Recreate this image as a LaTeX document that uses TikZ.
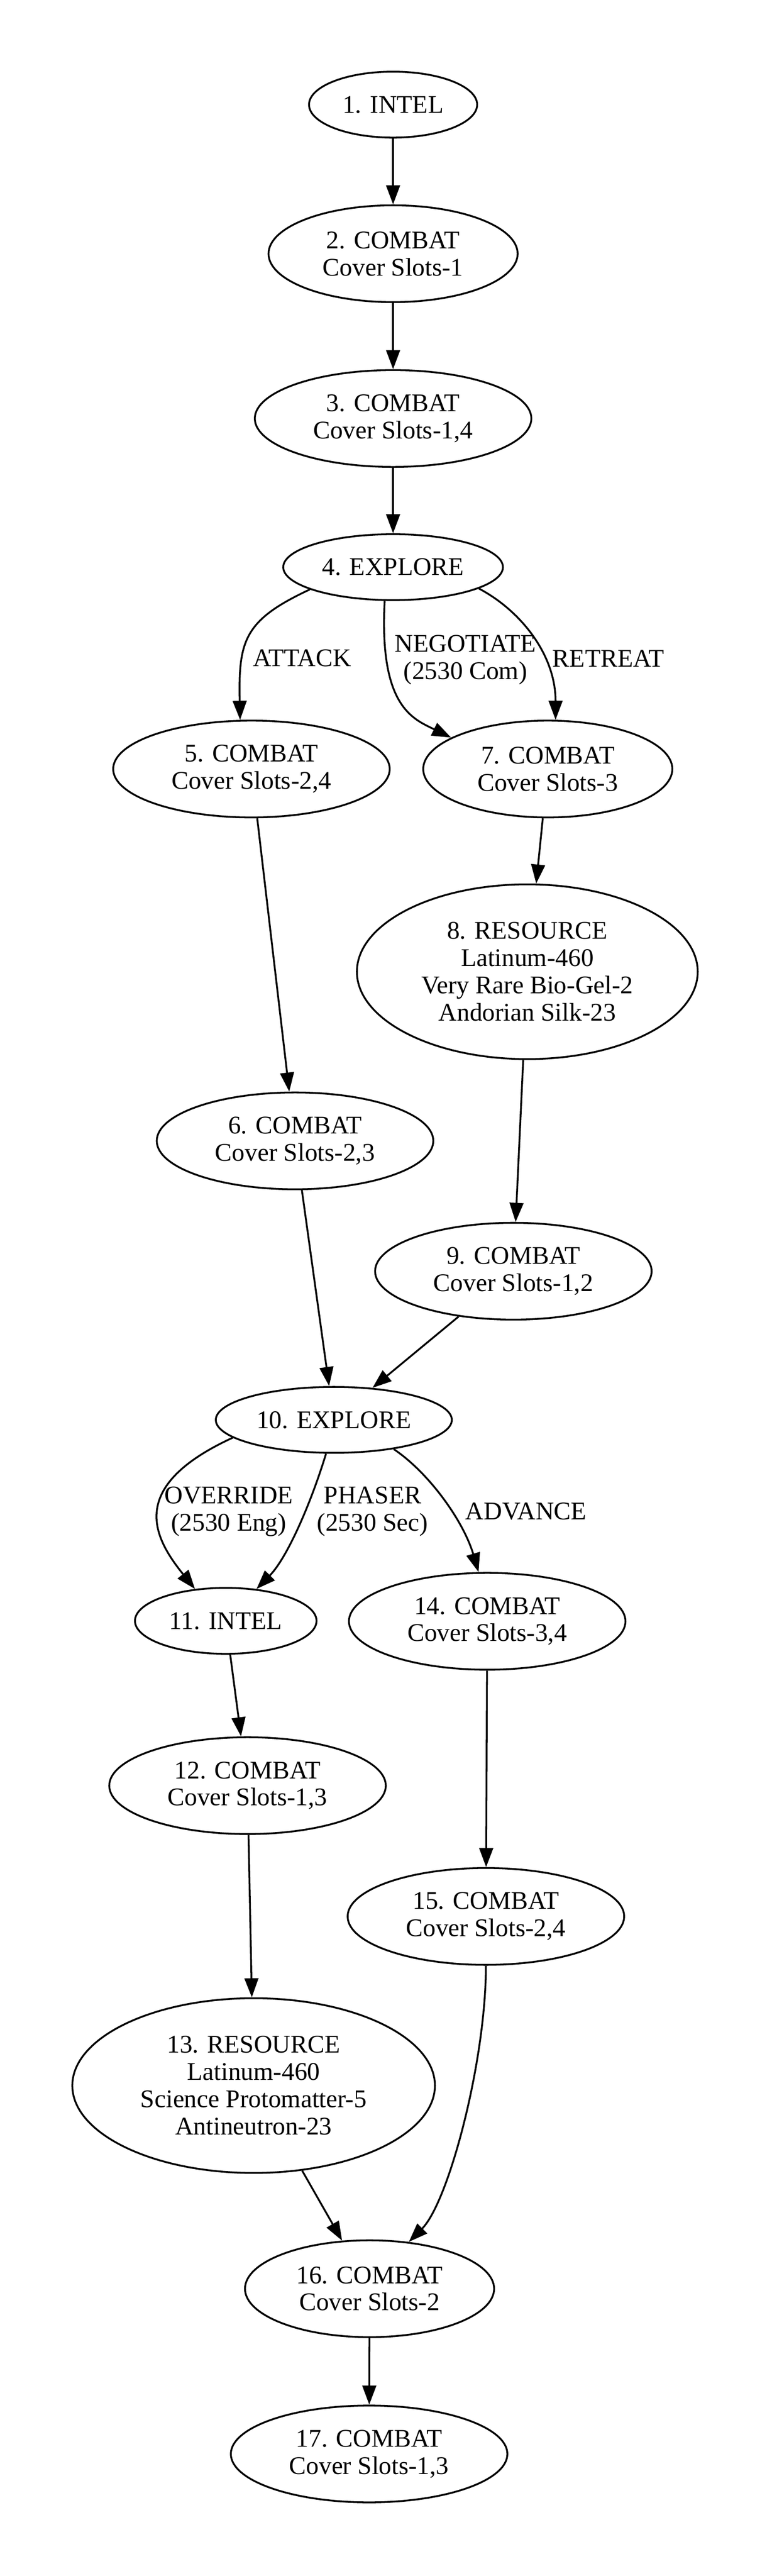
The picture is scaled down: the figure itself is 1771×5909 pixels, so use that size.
\documentclass[tikz,border=0pt]{standalone}
\usepackage{fontspec}
\setmainfont{Liberation Serif}
\usetikzlibrary{shapes.geometric,arrows.meta}

\begin{document}
\begin{tikzpicture}[x=0.24pt,y=-0.24pt,
  every node/.style={font=\fontsize{14}{15}\selectfont, align=center},
  state/.style={draw, ellipse, line width=1pt, inner sep=0pt, minimum height=53.3pt},
  single/.style={state, minimum height=36.3pt},
  big/.style={state, minimum height=96.2pt},
  edge/.style={line width=1pt, -{Triangle[length=10.5pt,width=7.6pt]}}]
\useasboundingbox (0,0) rectangle (1771,5909);

\node[single, minimum width=92.6pt] (n1) at (902,240) {1. INTEL};
\node[state, minimum width=137.2pt] (n2) at (902,582) {2. COMBAT\\Cover Slots-1};
\node[state, minimum width=152.3pt] (n3) at (902,960) {3. COMBAT\\Cover Slots-1,4};
\node[single, minimum width=121pt] (n4) at (902,1301) {4. EXPLORE};
\node[state, minimum width=152.3pt] (n5) at (577,1764) {5. COMBAT\\Cover Slots-2,4};
\node[state, minimum width=137.2pt] (n7) at (1257,1764) {7. COMBAT\\Cover Slots-3};
\node[big, minimum width=187.7pt] (n8) at (1210,2229) {8. RESOURCE\\Latinum-460\\Very Rare Bio-Gel-2\\Andorian Silk-23};
\node[state, minimum width=152.3pt] (n6) at (677,2617) {6. COMBAT\\Cover Slots-2,3};
\node[state, minimum width=152.3pt] (n9) at (1178,2916) {9. COMBAT\\Cover Slots-1,2};
\node[single, minimum width=130pt] (n10) at (766,3257) {10. EXPLORE};
\node[single, minimum width=100pt] (n11) at (518,3718) {11. INTEL};
\node[state, minimum width=152.3pt] (n14) at (1118,3719) {14. COMBAT\\Cover Slots-3,4};
\node[state, minimum width=152.3pt] (n12) at (568,4096) {12. COMBAT\\Cover Slots-1,3};
\node[state, minimum width=152.3pt] (n15) at (1115,4396) {15. COMBAT\\Cover Slots-2,4};
\node[big, minimum width=199.7pt] (n13) at (582,4784) {13. RESOURCE\\Latinum-460\\Science Protomatter-5\\Antineutron-23};
\node[state, minimum width=137.2pt] (n16) at (848,5250) {16. COMBAT\\Cover Slots-2};
\node[state, minimum width=152.3pt] (n17) at (847,5629) {17. COMBAT\\Cover Slots-1,3};

\node (lattack) at (693,1510) {ATTACK};
\node (lnegotiate) at (1068,1514) {NEGOTIATE\\(2530 Com)};
\node (lretreat) at (1396,1510) {RETREAT};
\node (loverride) at (525,3467) {OVERRIDE\\(2530 Eng)};
\node (lphaser) at (855,3467) {PHASER\\(2530 Sec)};
\node (ladvance) at (1207,3467) {ADVANCE};

\foreach \a/\b in {n1/n2,n2/n3,n3/n4,n5/n6,n7/n8,n8/n9,n6/n10,n9/n10,n11/n12,n12/n13,n14/n15,n13/n16,n16/n17} {
\draw[edge] (\a) -- (\b);
}

\draw[edge] (n4.195) .. controls +(-150,70) and +(-4,-183) .. (n5.103);
\draw[edge] (n4.256) .. controls +(-13,242) and +(-88,-43) .. (n7.162);
\draw[edge] (n4.-14) .. controls +(95,50) and +(0,-150) .. (n7.81);
\draw[edge] (n10.190) .. controls +(-246,113) and +(-94,-117) .. (n11.134);
\draw[edge] (n10.257) .. controls +(-35,115) and +(70,-71) .. (n11.46);
\draw[edge] (n10.-26) .. controls +(83,56) and +(-34,-115) .. (n14.100);
\draw[edge] (n15.south) .. controls +(0,220) and +(91,-91) .. (n16.50);

\end{tikzpicture}
\end{document}
